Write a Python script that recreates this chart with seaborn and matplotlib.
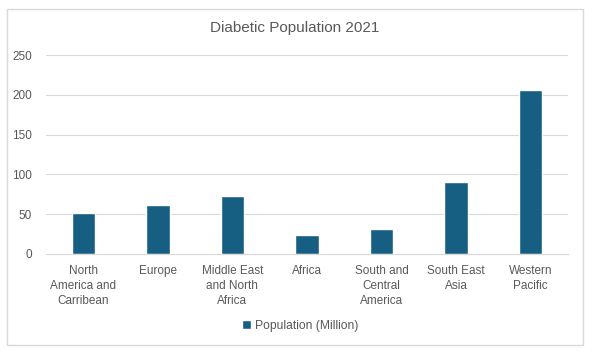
import matplotlib.pyplot as plt
import seaborn as sns
import pandas as pd
from matplotlib.patches import Rectangle

regions = ['North\nAmerica and\nCarribean', 'Europe', 'Middle East\nand North\nAfrica', 'Africa',
           'South and\nCentral\nAmerica', 'South East\nAsia', 'Western\nPacific']
population = [51, 61, 73, 24, 32, 90, 206]

BAR_COLOR = '#175F82'
TEXT_COLOR = '#595959'
GRID_COLOR = '#D9D9D9'

sns.set_style('white')
plt.rcParams['font.family'] = ['Liberation Sans', 'DejaVu Sans']

df = pd.DataFrame({'region': regions, 'pop': population})

fig = plt.figure(figsize=(5.95, 3.54), dpi=100)
ax = fig.add_axes([46/595, 1 - 254/354, (568 - 46)/595, (254 - 55)/354])

sns.barplot(data=df, x='region', y='pop', color=BAR_COLOR, width=0.315, ax=ax,
            label='Population (Million)', saturation=1)

ax.set_xlim(-0.5, 6.5)
ax.set_ylim(0, 250)
ax.set_yticks(range(0, 251, 50))
ax.yaxis.grid(True, color=GRID_COLOR, linewidth=0.8)
ax.set_axisbelow(True)
for s in ['top', 'right', 'left']:
    ax.spines[s].set_visible(False)
ax.spines['bottom'].set_color(GRID_COLOR)
ax.tick_params(axis='both', length=0, colors=TEXT_COLOR, labelsize=8.5)
ax.tick_params(axis='y', pad=10)
ax.tick_params(axis='x', pad=8)
ax.set_xlabel('')
ax.set_ylabel('')
for t in ax.get_xticklabels():
    t.set_linespacing(1.3)

fig.text(295/595, 1 - 28/354, 'Diabetic Population 2021', ha='center', va='center',
         fontsize=11, color=TEXT_COLOR)

leg = ax.legend(loc='center', bbox_to_anchor=(300/595, 1 - 326/354), bbox_transform=fig.transFigure,
                frameon=False, fontsize=8.7, handlelength=0.8, handleheight=0.8, handletextpad=0.3)
for t in leg.get_texts():
    t.set_color(TEXT_COLOR)

# chart border
fig.patches.append(Rectangle((7/595, 1 - 345/354), (583 - 7)/595, (345 - 9)/354,
                             transform=fig.transFigure, fill=False, edgecolor=GRID_COLOR, linewidth=1))

fig.savefig('out.png', dpi=100)
